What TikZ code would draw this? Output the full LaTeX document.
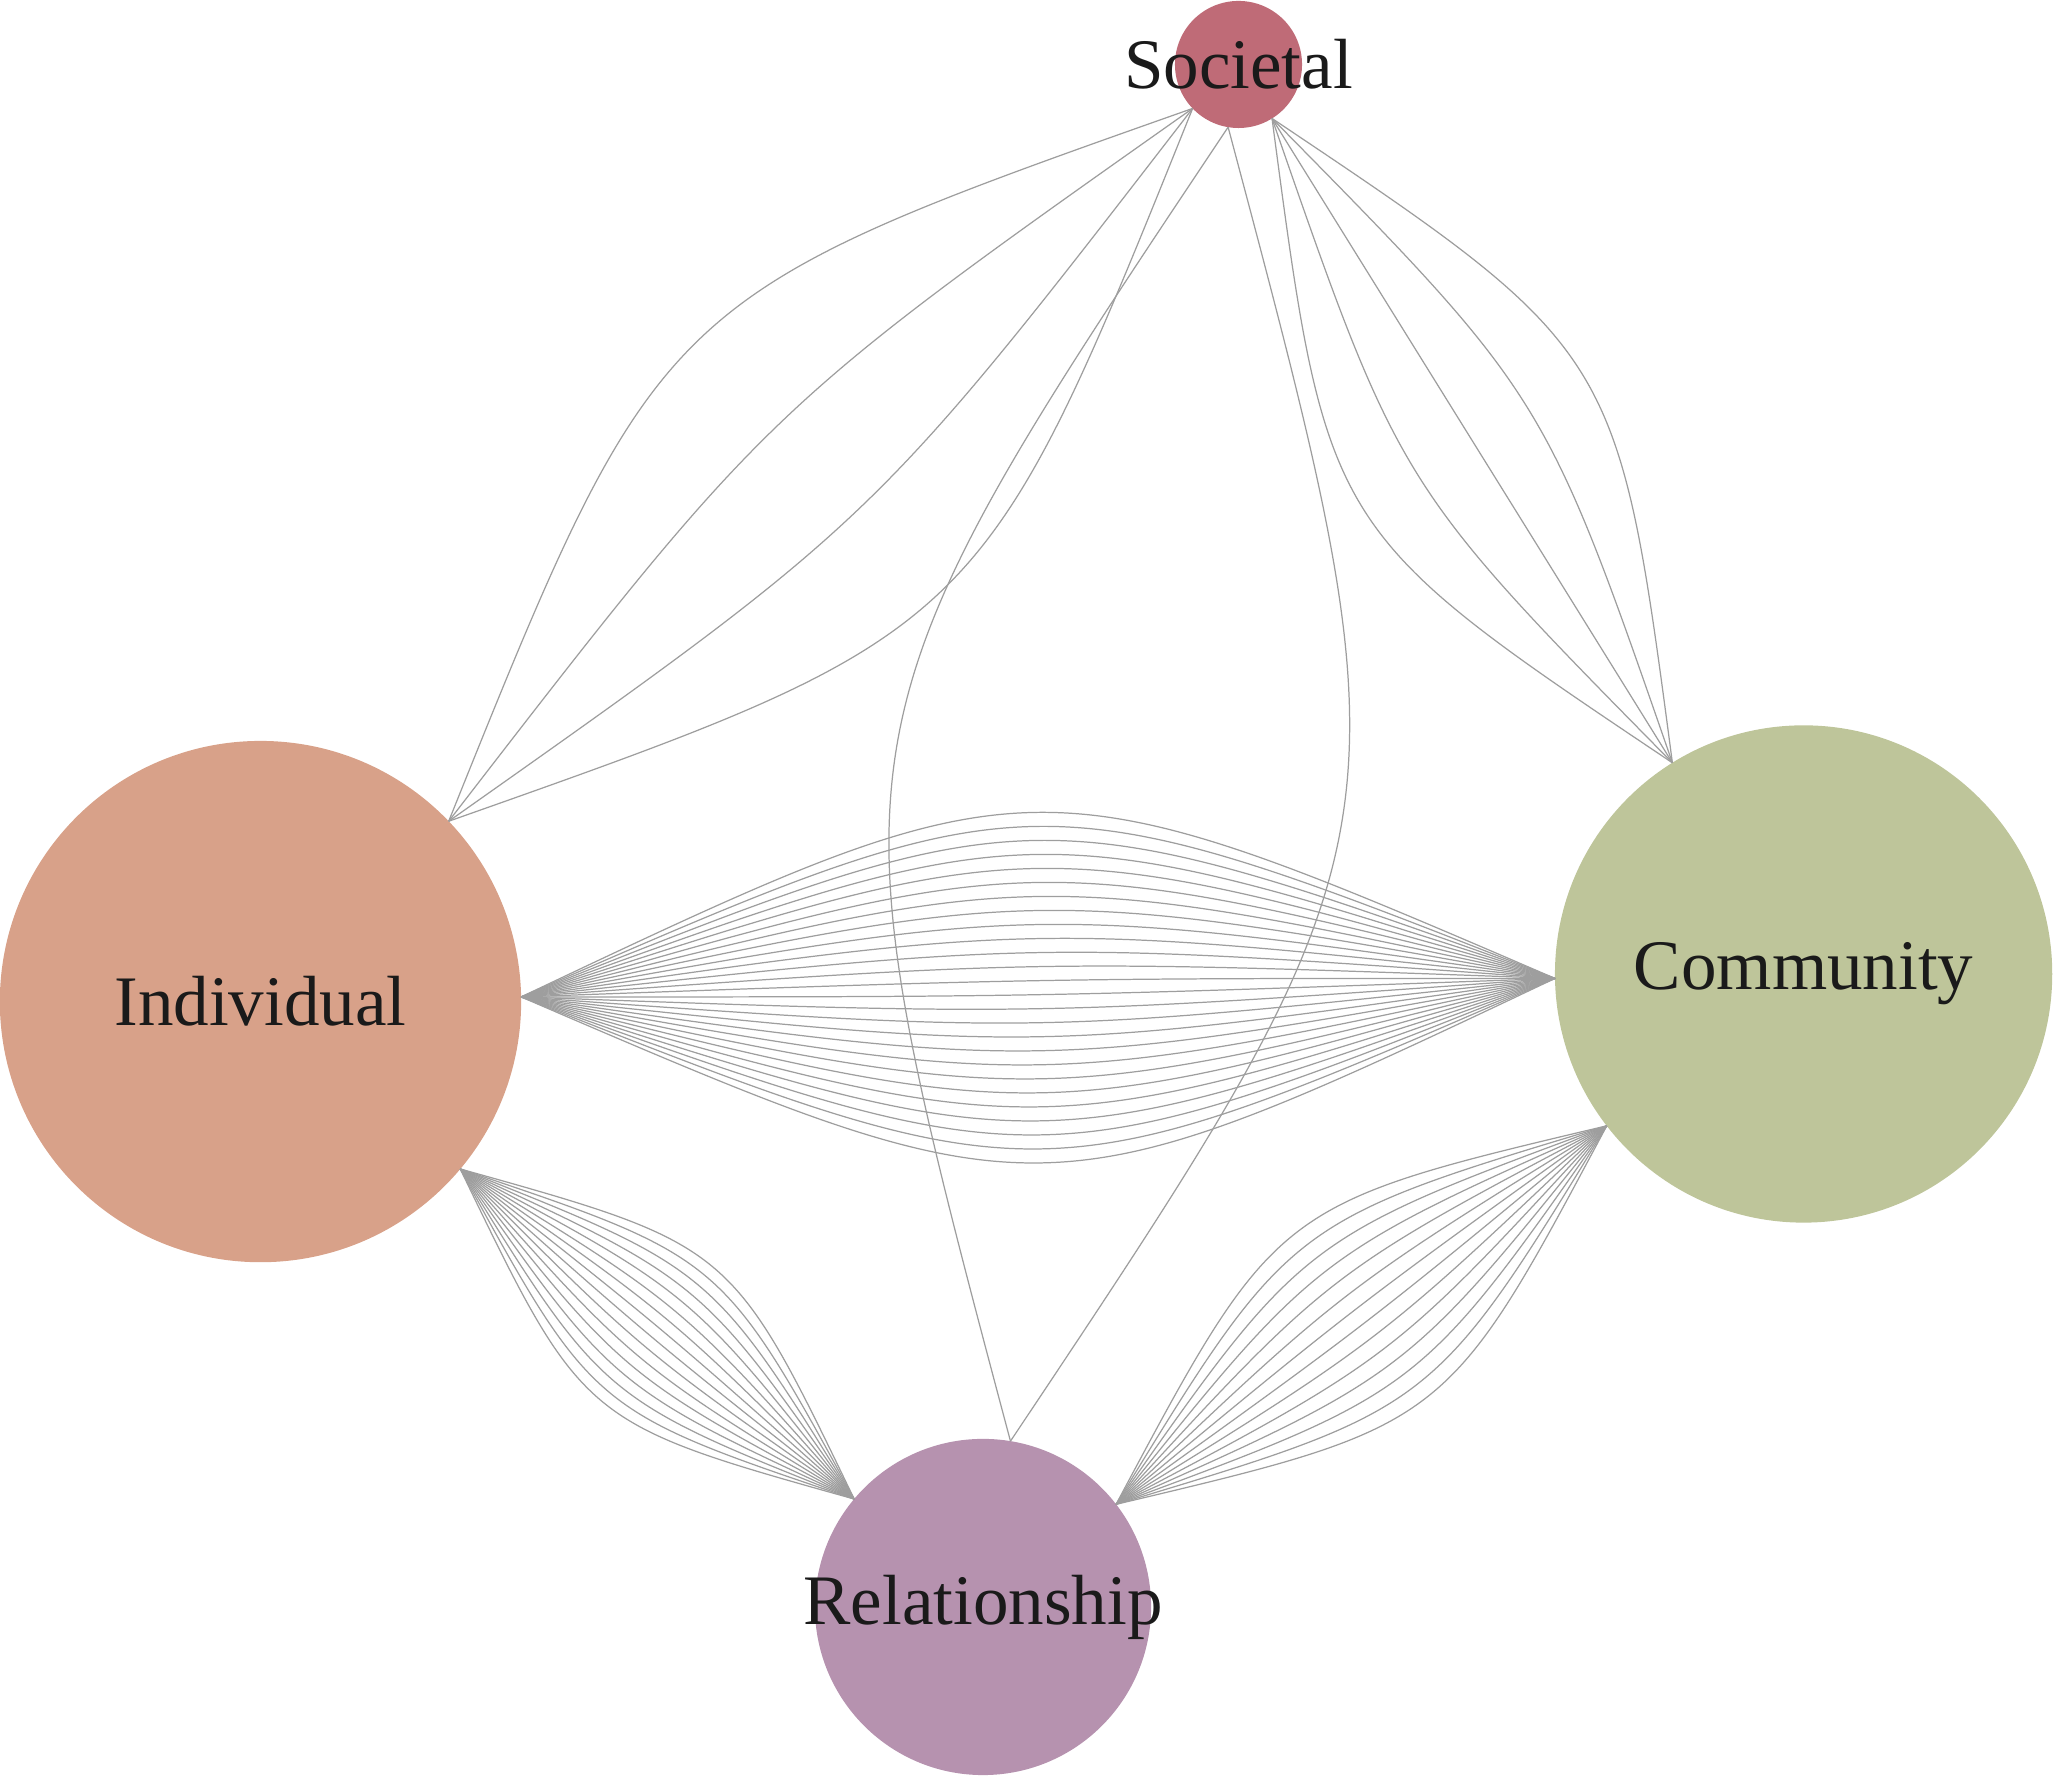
\documentclass[tikz,border=0pt]{standalone}
\usepackage{fontspec}
\setmainfont{Liberation Serif}
\usetikzlibrary{calc}
\definecolor{socC}{HTML}{BF6B77}
\definecolor{indC}{HTML}{D8A189}
\definecolor{comC}{HTML}{BEC59A}
\definecolor{relC}{HTML}{B692AF}
\definecolor{tieC}{HTML}{9E9E9E}
\definecolor{txtC}{HTML}{1A1A1A}

\begin{document}
\begin{tikzpicture}[x=0.01cm,y=0.01cm,
    hub/.style={circle,inner sep=0pt,outer sep=0pt},
    lbl/.style={inner sep=0pt,text=txtC,font=\fontsize{20.2pt}{24pt}\selectfont},
    tie/.style={draw=tieC,line width=0.35pt}]
                \useasboundingbox (0,0) rectangle (2053,1776);

                \node[hub,fill=socC,minimum size=1.27cm] (soc) at (1238.5,1711.5) {};
                \node[hub,fill=indC,minimum size=5.21cm] (ind) at (260.5,774.4) {};
                \node[hub,fill=comC,minimum size=4.97cm] (com) at (1803.6,802) {};
                \node[hub,fill=relC,minimum size=3.36cm] (rel) at (983,169) {};

                % bundles of ties, all meeting on the line between the centres
                \foreach \a/\b/\n in {ind/com/26,ind/rel/16,com/rel/14,soc/ind/4,soc/com/5,soc/rel/2} {
                    \path (\a) -- (\b) coordinate[pos=0] (p) coordinate[pos=1] (q);
                    \pgfmathtruncatemacro\m{\n-1}
                    \foreach \k in {0,...,\m} {
                        \pgfmathsetmacro\f{-0.452+0.904*\k/\m}
                        \draw[tie] (p) .. controls ($(p)!0.5!(q)!\f!90:(q)$) .. (q);
                    }
                }

                \node[lbl] (soc-txt) at (soc) {Societal};
                \node[lbl] (ind-txt) at (ind) {Individual};
                \node[lbl] (com-txt) at (com) {Community};
                \node[lbl] (rel-txt) at (rel) {Relationship};
            \end{tikzpicture}
\end{document}
